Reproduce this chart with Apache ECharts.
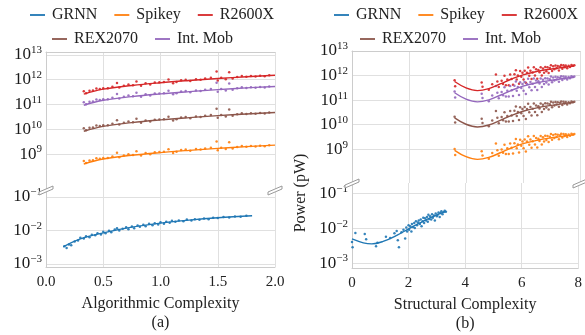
<!DOCTYPE html>
<html>
<head>
<meta charset="utf-8">
<script src="https://cdn.jsdelivr.net/npm/echarts@6/dist/echarts.min.js"></script>
<style>
  html, body { margin: 0; padding: 0; background: #fff; }
  #chart { width: 585px; height: 335px; }
</style>
</head>
<body>
<div id="chart"></div>
<script>
// all power values are log10 of power in pW
var names = ['GRNN', 'Spikey', 'R2600X', 'REX2070', 'Int. Mob'];
var colors = ['#1f77b4', '#ff7f0e', '#d62728', '#8c564b', '#9467bd'];

// (a) algorithmic complexity
var aX = [0.33,0.35,0.38,0.41,0.44,0.47,0.50,0.54,0.58,0.62,0.64,0.68,0.72,0.76,0.79,0.83,0.87,0.91,0.95,0.99,1.03,1.07,1.11,1.14,1.18,1.22,1.26,1.31,1.35,1.39,1.44,1.49,1.50,1.53,1.57,1.60,1.63,1.67,1.71,1.75,1.79,1.83,1.87,1.91,1.95];
var aR2600X = [11.54,11.46,11.56,11.57,11.65,11.63,11.66,11.66,11.72,11.87,11.69,11.76,11.81,11.78,11.93,11.76,11.86,11.81,11.89,11.90,11.91,12.01,11.86,11.91,11.98,12.00,11.95,12.02,12.00,12.05,12.08,12.33,11.97,12.08,12.02,12.30,12.05,12.11,12.15,12.12,12.15,12.13,12.16,12.14,12.18];
var aIntMob = [11.09,11.01,11.11,11.12,11.20,11.18,11.21,11.21,11.27,11.42,11.24,11.31,11.36,11.33,11.48,11.31,11.41,11.36,11.44,11.45,11.46,11.56,11.41,11.46,11.53,11.55,11.50,11.57,11.55,11.60,11.63,11.88,11.52,11.63,11.57,11.85,11.60,11.66,11.70,11.67,11.70,11.68,11.71,11.69,11.73];
var aREX2070 = [10.04,9.96,10.06,10.07,10.15,10.13,10.16,10.16,10.22,10.37,10.19,10.26,10.31,10.28,10.43,10.26,10.36,10.31,10.39,10.40,10.41,10.51,10.36,10.41,10.48,10.50,10.45,10.52,10.50,10.55,10.58,10.83,10.47,10.58,10.52,10.80,10.55,10.61,10.65,10.62,10.65,10.63,10.66,10.64,10.68];
var aSpikey = [8.72,8.64,8.74,8.75,8.83,8.81,8.84,8.84,8.90,9.05,8.87,8.94,8.99,8.96,9.11,8.94,9.04,8.99,9.07,9.08,9.09,9.19,9.04,9.09,9.16,9.18,9.13,9.20,9.18,9.23,9.26,9.51,9.15,9.26,9.20,9.48,9.23,9.29,9.33,9.30,9.33,9.31,9.34,9.32,9.36];
var aGrnnX = [0.16,0.18,0.20,0.22,0.25,0.28,0.30,0.33,0.35,0.38,0.40,0.43,0.45,0.48,0.50,0.52,0.55,0.57,0.60,0.62,0.64,0.67,0.70,0.72,0.75,0.77,0.80,0.82,0.85,0.87,0.90,0.93,0.95,0.98,1.00,1.03,1.05,1.08,1.10,1.13,1.16,1.20,1.23,1.27,1.30,1.34,1.38,1.42,1.46,1.50,1.55,1.60,1.65,1.70,1.75];
var aGrnn = [-2.47,-2.52,-2.42,-2.44,-2.33,-2.30,-2.22,-2.24,-2.17,-2.20,-2.13,-2.14,-2.08,-2.12,-2.04,-2.08,-2.01,-2.05,-1.97,-1.93,-2.00,-1.95,-1.90,-1.96,-1.88,-1.93,-1.85,-1.89,-1.83,-1.87,-1.80,-1.84,-1.78,-1.82,-1.75,-1.80,-1.74,-1.77,-1.71,-1.74,-1.70,-1.72,-1.67,-1.70,-1.66,-1.68,-1.64,-1.66,-1.62,-1.63,-1.60,-1.61,-1.58,-1.59,-1.56];
// (a) fitted curves
var aFitX = [0.33,0.5,0.75,1.0,1.25,1.5,1.75,2.0];
var aFitR2600X = [11.42,11.62,11.77,11.88,11.97,12.05,12.12,12.18];
var aFitIntMob = [10.97,11.17,11.32,11.43,11.52,11.60,11.67,11.73];
var aFitREX2070 = [9.92,10.12,10.27,10.38,10.47,10.55,10.62,10.68];
var aFitSpikey = [8.60,8.80,8.95,9.06,9.15,9.23,9.30,9.36];
var aFitGrnnX = [0.15,0.3,0.5,0.75,1.0,1.25,1.5,1.8];
var aFitGrnn = [-2.49,-2.25,-2.07,-1.90,-1.78,-1.69,-1.62,-1.56];

// (b) structural complexity
var bX = [3.60,3.62,4.55,4.58,4.80,4.92,5.05,5.10,5.15,5.25,5.30,5.35,5.40,5.45,5.50,5.55,5.60,5.65,5.70,5.75,5.78,5.82,5.86,5.90,5.94,5.98,6.02,6.06,6.10,6.14,6.18,6.22,6.26,6.30,6.34,6.38,6.42,6.46,6.50,6.54,6.58,6.62,6.66,6.70,6.74,6.78,6.82,6.86,6.90,6.94,6.98,7.02,7.06,7.10,7.14,7.18,7.22,7.26,7.30,7.34,7.38,7.42,7.46,7.50,7.55,7.60,7.65,7.70,7.75,7.80];
var bR2600X = [11.81,11.57,11.72,11.55,11.42,11.65,12.04,11.76,11.54,11.79,11.66,11.99,11.61,11.84,11.61,12.04,11.86,11.63,12.05,12.22,11.84,12.00,11.67,12.19,11.95,12.12,11.84,12.20,11.71,12.12,12.33,11.99,12.20,11.86,12.13,12.34,12.00,12.26,11.87,12.23,12.14,12.34,12.00,12.29,12.12,12.35,12.18,12.34,12.10,12.31,12.42,12.19,12.38,12.26,12.41,12.30,12.39,12.21,12.37,12.43,12.28,12.42,12.34,12.41,12.30,12.40,12.35,12.43,12.40,12.42];
var bIntMob = [11.35,11.11,11.26,11.09,10.96,11.19,11.58,11.30,11.08,11.33,11.20,11.53,11.15,11.38,11.15,11.58,11.40,11.17,11.59,11.76,11.38,11.54,11.21,11.73,11.49,11.66,11.38,11.74,11.25,11.66,11.87,11.53,11.74,11.40,11.67,11.88,11.54,11.80,11.41,11.77,11.68,11.88,11.54,11.83,11.66,11.89,11.72,11.88,11.64,11.85,11.96,11.73,11.92,11.80,11.95,11.84,11.93,11.75,11.91,11.97,11.82,11.96,11.88,11.95,11.84,11.94,11.89,11.97,11.94,11.96];
var bREX2070 = [10.33,10.09,10.24,10.07,9.94,10.17,10.56,10.28,10.06,10.31,10.18,10.51,10.13,10.36,10.13,10.56,10.38,10.15,10.57,10.74,10.36,10.52,10.19,10.71,10.47,10.64,10.36,10.72,10.23,10.64,10.85,10.51,10.72,10.38,10.65,10.86,10.52,10.78,10.39,10.75,10.66,10.86,10.52,10.81,10.64,10.87,10.70,10.86,10.62,10.83,10.94,10.71,10.90,10.78,10.93,10.82,10.91,10.73,10.89,10.95,10.80,10.94,10.86,10.93,10.82,10.92,10.87,10.95,10.92,10.94];
var bSpikey = [9.01,8.77,8.92,8.75,8.62,8.85,9.24,8.96,8.74,8.99,8.86,9.19,8.81,9.04,8.81,9.24,9.06,8.83,9.25,9.42,9.04,9.20,8.87,9.39,9.15,9.32,9.04,9.40,8.91,9.32,9.53,9.19,9.40,9.06,9.33,9.54,9.20,9.46,9.07,9.43,9.34,9.54,9.20,9.49,9.32,9.55,9.38,9.54,9.30,9.51,9.62,9.39,9.58,9.46,9.61,9.50,9.59,9.41,9.57,9.63,9.48,9.62,9.54,9.61,9.50,9.60,9.55,9.63,9.60,9.62];
var bGrnnX = [0.00,0.02,0.12,0.45,0.50,0.85,0.90,1.20,1.35,1.50,1.58,1.62,1.66,1.75,1.82,1.88,1.92,1.95,2.00,2.02,2.06,2.10,2.12,2.16,2.20,2.22,2.26,2.30,2.33,2.36,2.40,2.43,2.46,2.50,2.52,2.55,2.58,2.62,2.65,2.68,2.70,2.73,2.76,2.80,2.83,2.86,2.90,2.93,2.96,3.00,3.03,3.06,3.10,3.13,3.16,3.20,3.24,3.28,3.32];
var bGrnn = [-2.40,-2.55,-2.14,-2.17,-2.32,-2.52,-2.42,-2.25,-2.28,-2.15,-2.08,-2.35,-2.55,-2.12,-2.05,-2.30,-1.98,-2.10,-1.92,-2.05,-1.95,-2.10,-1.88,-1.97,-1.85,-2.00,-1.80,-1.92,-1.84,-1.78,-1.88,-1.75,-1.95,-1.80,-1.70,-1.85,-1.72,-1.78,-1.68,-1.82,-1.62,-1.74,-1.66,-1.75,-1.60,-1.70,-1.64,-1.78,-1.58,-1.66,-1.62,-1.55,-1.68,-1.57,-1.52,-1.60,-1.54,-1.50,-1.53];
// (b) fitted curves
var bFitX = [3.6,4.0,4.4,4.8,5.2,5.6,6.0,6.5,7.0,7.5,7.8];
var bFitR2600X = [11.76,11.50,11.39,11.47,11.66,11.86,12.03,12.17,12.27,12.35,12.39];
var bFitIntMob = [11.30,11.04,10.93,11.01,11.20,11.40,11.57,11.71,11.81,11.89,11.93];
var bFitREX2070 = [10.28,10.02,9.91,9.99,10.18,10.38,10.55,10.69,10.79,10.87,10.91];
var bFitSpikey = [8.96,8.70,8.59,8.67,8.86,9.06,9.23,9.37,9.47,9.55,9.59];
var bFitGrnnX = [0,0.4,0.7,1.1,1.6,2.0,2.4,2.8,3.3];
var bFitGrnn = [-2.31,-2.42,-2.45,-2.38,-2.20,-2.02,-1.85,-1.69,-1.53];

var upperTicks = [9, 10, 11, 12, 13];
var lowerTicks = [-3, -2, -1];

var font = 'Liberation Serif';
var grids = [
  { left: 46, top: 52, width: 229, height: 138 },
  { left: 46, top: 190, width: 229, height: 77 },
  { left: 352, top: 51, width: 228, height: 132 },
  { left: 352, top: 183, width: 228, height: 85 }
];

function pairs(xs, ys) {
  return xs.map(function (x, i) { return [x, ys[i]]; });
}
function colorOf(name) { return colors[names.indexOf(name)]; }

function scatter(name, g, xs, ys) {
  return {
    name: name, type: 'scatter', xAxisIndex: g, yAxisIndex: g,
    symbolSize: 2.5, itemStyle: { color: colorOf(name), opacity: 0.9 },
    data: pairs(xs, ys)
  };
}
function fit(name, g, xs, ys) {
  return {
    name: name, type: 'line', xAxisIndex: g, yAxisIndex: g,
    showSymbol: false, smooth: 0.4,
    lineStyle: { color: colorOf(name), width: 1.4 },
    itemStyle: { color: colorOf(name) },
    data: pairs(xs, ys)
  };
}

function expLabel(v) {
  var e = v < 0 ? '\u2212' + (-v) : '' + v;
  return '{b|10}{s|' + e + '}';
}
var richExp = {
  b: { fontFamily: font, fontSize: 17, color: '#1a1a1a', lineHeight: 20 },
  s: { fontFamily: font, fontSize: 11, color: '#1a1a1a', lineHeight: 20, verticalAlign: 'top', padding: [0, 0, 7, 0] }
};

function xAxis(g, max, step, bottom, name, dec) {
  return {
    gridIndex: g, type: 'value', min: 0, max: max, interval: step,
    position: bottom ? 'bottom' : 'top',
    axisLine: { show: true, lineStyle: { color: '#cccccc', width: 1 } },
    axisTick: { show: false },
    axisLabel: {
      show: bottom, margin: 8, fontFamily: font, fontSize: 15, color: '#222',
      formatter: function (v) { return v.toFixed(dec); }
    },
    splitLine: { show: true, lineStyle: { color: '#e0e0e0', width: 1 } },
    name: bottom ? name : '', nameLocation: 'middle', nameGap: 27,
    nameTextStyle: { fontFamily: font, fontSize: 16, color: '#222', lineHeight: 19 }
  };
}
function yAxis(g, min, max, ticks) {
  return {
    gridIndex: g, type: 'value', min: min, max: max,
    axisLine: { show: true, lineStyle: { color: '#cccccc', width: 1 } },
    axisTick: { show: false, customValues: ticks },
    axisLabel: { customValues: ticks, margin: 4, formatter: expLabel, rich: richExp },
    splitLine: { show: true, lineStyle: { color: '#e0e0e0', width: 1 } }
  };
}

function legend(data, left, top) {
  return {
    data: data, left: left, top: top, width: 280, padding: 0, itemGap: 17, itemWidth: 15, itemHeight: 2,
    icon: 'rect', selectedMode: false,
    textStyle: { fontFamily: font, fontSize: 16, color: '#222', padding: [0, 0, 0, 2] }
  };
}

var series = [];
[[0, aFitX, aFitR2600X, aFitIntMob, aFitREX2070, aFitSpikey, aX, aR2600X, aIntMob, aREX2070, aSpikey],
 [2, bFitX, bFitR2600X, bFitIntMob, bFitREX2070, bFitSpikey, bX, bR2600X, bIntMob, bREX2070, bSpikey]
].forEach(function (p) {
  var g = p[0];
  series.push(scatter('R2600X', g, p[6], p[7]), fit('R2600X', g, p[1], p[2]));
  series.push(scatter('Int. Mob', g, p[6], p[8]), fit('Int. Mob', g, p[1], p[3]));
  series.push(scatter('REX2070', g, p[6], p[9]), fit('REX2070', g, p[1], p[4]));
  series.push(scatter('Spikey', g, p[6], p[10]), fit('Spikey', g, p[1], p[5]));
});
series.push(scatter('GRNN', 1, aGrnnX, aGrnn), fit('GRNN', 1, aFitGrnnX, aFitGrnn));
series.push(scatter('GRNN', 3, bGrnnX, bGrnn), fit('GRNN', 3, bFitGrnnX, bFitGrnn));

// axis break marks
function breakMark(x, y) {
  return {
    type: 'polygon', z: 100,
    shape: { points: [[x - 7, y + 2], [x + 7, y - 4], [x + 7, y - 1], [x - 7, y + 5]] },
    style: { fill: '#fff', stroke: '#999', lineWidth: 1 }
  };
}
var marks = [];
[[grids[0], grids[1]], [grids[2], grids[3]]].forEach(function (pair) {
  var y = pair[1].top;
  marks.push(breakMark(pair[0].left, y), breakMark(pair[0].left + pair[0].width, y));
});

var chart = echarts.init(document.getElementById('chart'));
chart.setOption({
  animation: false,
  grid: grids,
  legend: [
    legend(['GRNN', 'Spikey', 'R2600X'], 30, 7),
    legend(['REX2070', 'Int. Mob'], 52, 31),
    legend(['GRNN', 'Spikey', 'R2600X'], 334, 7),
    legend(['REX2070', 'Int. Mob'], 360, 31)
  ],
  xAxis: [
    xAxis(0, 2, 0.5, false, '', 1),
    xAxis(1, 2, 0.5, true, 'Algorithmic Complexity\n(a)', 1),
    xAxis(2, 8, 2, false, '', 0),
    xAxis(3, 8, 2, true, 'Structural Complexity\n(b)', 0)
  ],
  yAxis: [
    yAxis(0, 7.55, 13.12, upperTicks),
    yAxis(1, -3.09, -0.79, lowerTicks),
    yAxis(2, 7.63, 13, upperTicks),
    yAxis(3, -3.14, -0.71, lowerTicks)
  ],
  graphic: marks.concat([{
    type: 'text', x: 301, y: 193, rotation: Math.PI / 2,
    style: { text: 'Power (pW)', fontFamily: font, fontSize: 16, fill: '#222', align: 'center', verticalAlign: 'middle' }
  }]),
  series: series
});
</script>
</body>
</html>
